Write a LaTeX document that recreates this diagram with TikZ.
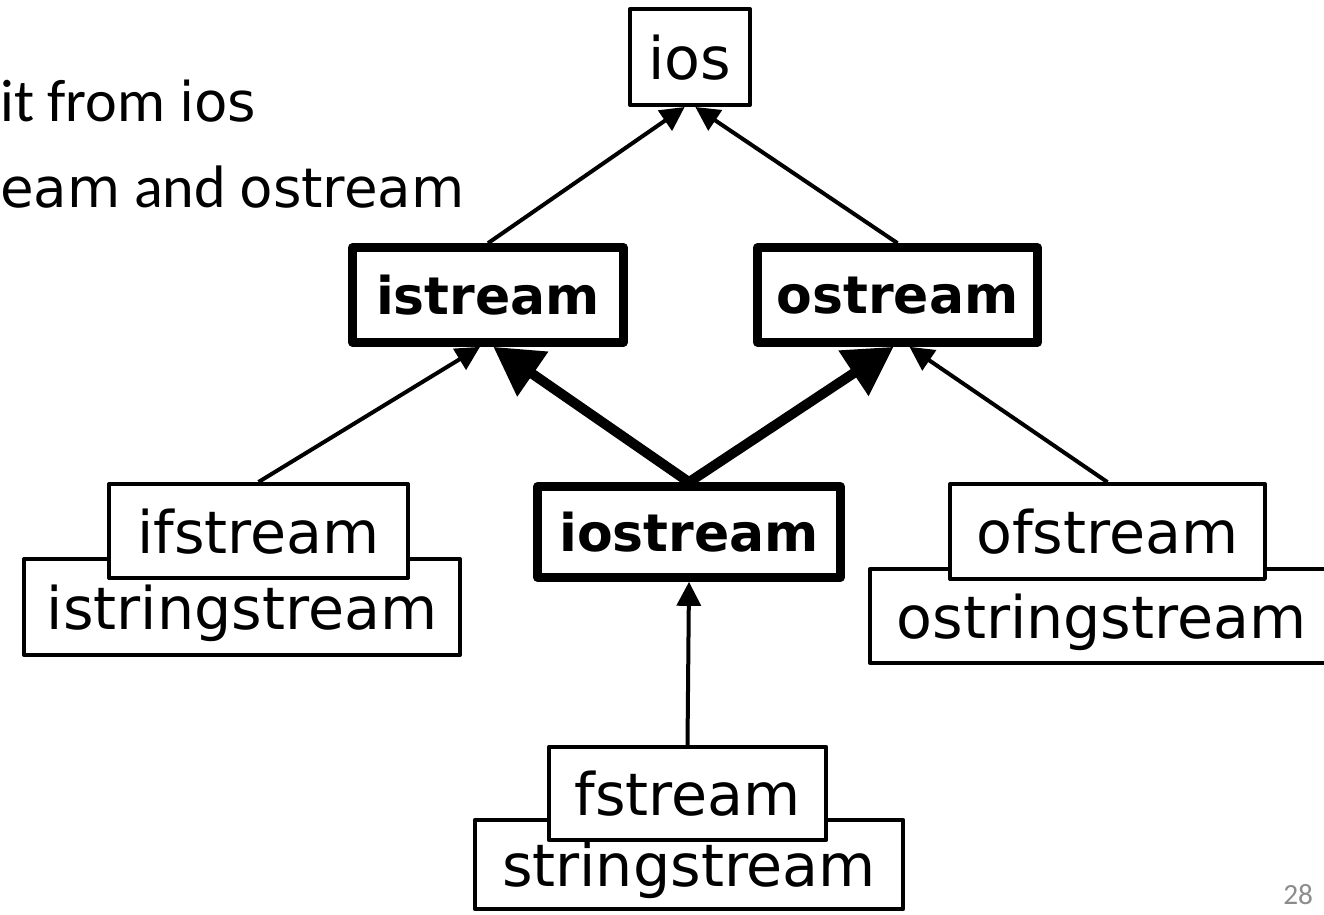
\documentclass[tikz,border=0pt]{standalone}
\usepackage{fontspec}
\usepackage{xcolor}
\usetikzlibrary{arrows.meta,
	calc}
\newfontfamily\codefam{DejaVu Sans}
\newfontfamily\bodyfam{Carlito}
\def\codetxt{\codefam\fontsize{44}{52}\selectfont}
\def\codeline{\codefam\fontsize{41}{50}\selectfont}
\def\codebold{\codefam\bfseries\fontsize{39}{46}\selectfont}
\def\bodytxt{\bodyfam\fontsize{45}{54}\selectfont}
\definecolor{pagegray}{HTML}{8C8C8C}

\begin{document}
\begin{tikzpicture}[x=0.75pt, y=-0.75pt,
	cls/.style={draw, fill=white, line width=3pt, line join=round, inner sep=0pt, text depth=0pt, font=\codetxt},
	basecls/.style={cls, line width=6.75pt, font=\codebold},
	inh/.style={line width=3pt, -{Triangle[length=18pt,width=18pt]}},
	inhbold/.style={line width=7.5pt, -{Triangle[length=36pt,width=39pt]}}]
	\useasboundingbox (0,0) rectangle (1324,914);
	% slide text
	\node[anchor=base west, inner sep=0pt, font=\bodytxt] (line1) at (0,121) {it from {\codeline ios}};
	\node[anchor=base west, inner sep=0pt, font=\bodytxt] (line2) at (0,207) {{\codeline eam} and {\codeline ostream}};
	% base classes
	\node[cls, minimum width=90pt, minimum height=72pt] (ios) at (690,57) {ios};
	\node[basecls, minimum width=203pt, minimum height=71pt] (istream) at (488,295) {istream};
	\node[basecls, minimum width=210pt, minimum height=71pt] (ostream) at (897.5,295) {ostream};
	\node[basecls, minimum width=227pt, minimum height=68pt] (iostream) at (689,532) {iostream};
	% stacked classes, lower box first
	\node[cls, minimum width=327pt, minimum height=72pt] (istringstream) at (242,607) {istringstream};
	\node[cls, minimum width=224pt, minimum height=70.5pt] (ifstream) at (258.5,531) {ifstream};
	\node[cls, minimum width=347pt, minimum height=70.5pt] (ostringstream) at (1101.5,616) {ostringstream};
	\node[cls, minimum width=236pt, minimum height=71pt] (ofstream) at (1107.5,531.5) {ofstream};
	\node[cls, minimum width=321pt, minimum height=67pt] (stringstream) at (689,864.5) {stringstream};
	\node[cls, minimum width=208pt, minimum height=70pt] (fstream) at (687.5,793.5) {fstream};
	% inheritance
	\draw[inh] (istream.north) -- ([xshift=-4pt]ios.south);
	\draw[inh] (ostream.north) -- ([xshift=4pt]ios.south);
	\draw[inh] (ifstream.north) -- ([xshift=-6pt]istream.south);
	\draw[inhbold] (iostream.north) -- ([xshift=4pt]istream.south);
	\draw[inhbold] (iostream.north) -- ([xshift=-3pt]ostream.south);
	\draw[inh] (ofstream.north) -- ([xshift=9pt]ostream.south);
	\draw[inh] (fstream.north) -- (iostream.south);
	\node[anchor=base west, inner sep=0pt, text=pagegray, font=\bodyfam\fontsize{22}{26}\selectfont] (pagenum) at (1283,904) {28};
\end{tikzpicture}
\end{document}
